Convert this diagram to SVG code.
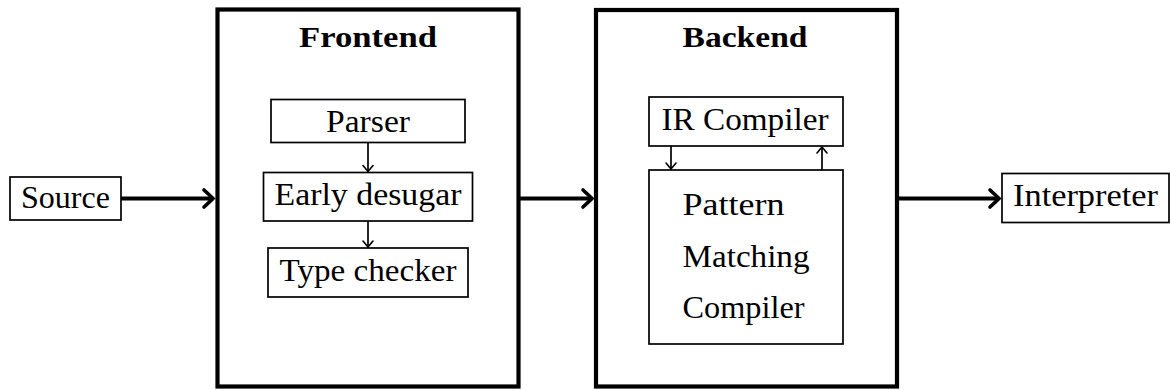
<svg xmlns="http://www.w3.org/2000/svg" width="1170" height="390" viewBox="0 0 1170 390">
<style>
  .box { fill: #fff; stroke: #000; stroke-width: 1.7; }
  .frame { fill: none; stroke: #000; stroke-width: 4.2; }
  .lbl { font-family: "Liberation Serif", "Times New Roman", serif; font-size: 31px; fill: #000; }
  .title { font-family: "Liberation Serif", "Times New Roman", serif; font-size: 29.5px; font-weight: bold; fill: #000; }
  .thick { stroke: #000; stroke-width: 4; fill: none; }
  .thin { stroke: #000; stroke-width: 1.7; fill: none; }
</style>
<defs>
  <marker id="bigArrow" markerUnits="userSpaceOnUse" viewBox="-14 -12 18 24" refX="0" refY="0" markerWidth="18" markerHeight="24" orient="auto" overflow="visible">
    <path d="M -9 -8.5 Q -2.5 -2.5 0 0 Q -2.5 2.5 -9 8.5" fill="none" stroke="#000" stroke-width="3.6" stroke-linecap="round"/>
  </marker>
  <marker id="smallArrow" markerUnits="userSpaceOnUse" viewBox="-8 -6 10 12" refX="0" refY="0" markerWidth="10" markerHeight="12" orient="auto" overflow="visible">
    <path d="M -6 -5 Q -1.5 -1.3 0 0 Q -1.5 1.3 -6 5" fill="none" stroke="#000" stroke-width="1.6" stroke-linecap="round"/>
  </marker>
</defs>

<g id="frontend">
  <rect class="frame" x="217.5" y="9.5" width="301" height="377"/>
  <text class="title" x="368" y="46.5" text-anchor="middle" textLength="138" lengthAdjust="spacingAndGlyphs">Frontend</text>
</g>
<g id="backend">
  <rect class="frame" x="596" y="10" width="301" height="376.5"/>
  <text class="title" x="745" y="46.5" text-anchor="middle" textLength="125" lengthAdjust="spacingAndGlyphs">Backend</text>
</g>

<g id="source">
  <rect class="box" x="10" y="177" width="111" height="43"/>
  <text class="lbl" x="65.5" y="208" text-anchor="middle" textLength="89" lengthAdjust="spacingAndGlyphs">Source</text>
</g>
<g id="parser">
  <rect class="box" x="271" y="99.5" width="194" height="43"/>
  <text class="lbl" x="368" y="131.5" text-anchor="middle" textLength="84" lengthAdjust="spacingAndGlyphs">Parser</text>
</g>
<g id="early-desugar">
  <rect class="box" x="263.5" y="172.5" width="209" height="48.5"/>
  <text class="lbl" x="368" y="205" text-anchor="middle" textLength="187" lengthAdjust="spacingAndGlyphs">Early desugar</text>
</g>
<g id="type-checker">
  <rect class="box" x="268" y="248" width="200" height="49"/>
  <text class="lbl" x="368" y="280.5" text-anchor="middle" textLength="177" lengthAdjust="spacingAndGlyphs">Type checker</text>
</g>
<g id="ir-compiler">
  <rect class="box" x="649" y="97" width="194" height="49"/>
  <text class="lbl" x="745" y="129.5" text-anchor="middle" textLength="167" lengthAdjust="spacingAndGlyphs">IR Compiler</text>
</g>
<g id="pattern-matching-compiler">
  <rect class="box" x="649" y="170" width="194" height="174"/>
  <text class="lbl" x="682.5" y="215" textLength="102" lengthAdjust="spacingAndGlyphs">Pattern</text>
  <text class="lbl" x="682.5" y="266.5" textLength="127" lengthAdjust="spacingAndGlyphs">Matching</text>
  <text class="lbl" x="682.5" y="317.5" textLength="122" lengthAdjust="spacingAndGlyphs">Compiler</text>
</g>
<g id="interpreter">
  <rect class="box" x="1002" y="173.5" width="167" height="49"/>
  <text class="lbl" x="1085.5" y="206" text-anchor="middle" textLength="145" lengthAdjust="spacingAndGlyphs">Interpreter</text>
</g>

<g id="connectors">
  <line class="thick" x1="121" y1="198.5" x2="213" y2="198.5" marker-end="url(#bigArrow)"/>
  <line class="thick" x1="519" y1="198.5" x2="592" y2="198.5" marker-end="url(#bigArrow)"/>
  <line class="thick" x1="897" y1="198.5" x2="999" y2="198.5" marker-end="url(#bigArrow)"/>
  <line class="thin" x1="368" y1="143" x2="368" y2="171.5" marker-end="url(#smallArrow)"/>
  <line class="thin" x1="368" y1="221" x2="368" y2="247" marker-end="url(#smallArrow)"/>
  <line class="thin" x1="671" y1="146" x2="671" y2="169" marker-end="url(#smallArrow)"/>
  <line class="thin" x1="822" y1="170" x2="822" y2="147" marker-end="url(#smallArrow)"/>
</g>
</svg>
